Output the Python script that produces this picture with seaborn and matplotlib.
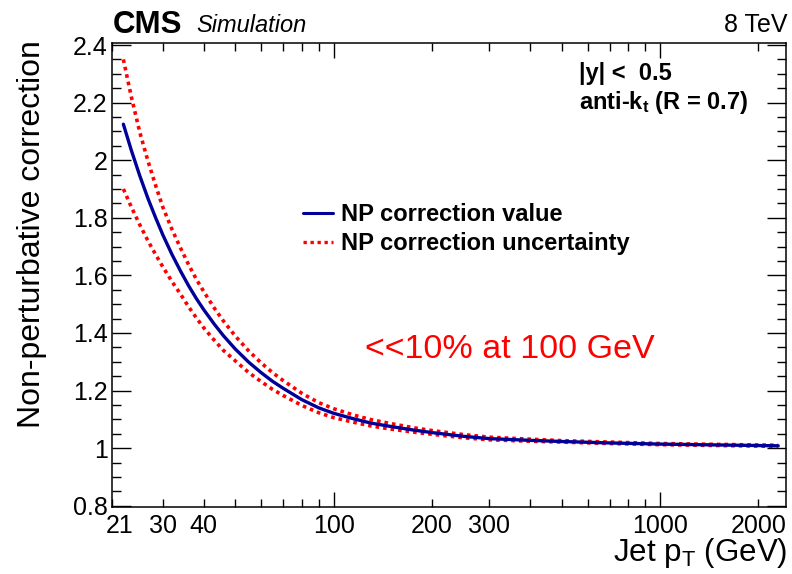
import pandas as pd
import seaborn as sns
import matplotlib.pyplot as plt
from matplotlib.ticker import FixedLocator, FuncFormatter, MultipleLocator
from matplotlib.transforms import ScaledTranslation
from matplotlib.lines import Line2D


# values
pt = [22.7, 24, 25.5, 27, 28.5, 30, 32, 34, 36, 38, 40, 43, 46, 50, 55, 60, 65, 70, 80, 90, 100,
      115, 130, 150, 175, 200, 250, 300, 400, 500, 700, 1000, 1500, 2300]
np_value = [2.125, 2.035, 1.945, 1.867, 1.80, 1.74, 1.672, 1.614, 1.563, 1.519, 1.481, 1.432, 1.39,
            1.344, 1.298, 1.262, 1.232, 1.208, 1.168, 1.14, 1.121,
            1.102, 1.087, 1.075, 1.063, 1.054, 1.041, 1.033, 1.027, 1.023, 1.018, 1.014, 1.011, 1.008]
np_up = [2.35, 2.221, 2.096, 1.997, 1.912, 1.836, 1.759, 1.694, 1.636, 1.586, 1.544, 1.488, 1.441,
         1.389, 1.337, 1.296, 1.262, 1.235, 1.19, 1.158, 1.137,
         1.115, 1.099, 1.085, 1.071, 1.061, 1.047, 1.038, 1.031, 1.026, 1.021, 1.016, 1.013, 1.010]
np_down = [1.90, 1.838, 1.775, 1.72, 1.672, 1.629, 1.578, 1.534, 1.49, 1.452, 1.418, 1.376, 1.339,
           1.303, 1.262, 1.231, 1.204, 1.183, 1.148, 1.123, 1.106,
           1.09, 1.077, 1.066, 1.056, 1.048, 1.036, 1.029, 1.024, 1.021, 1.016, 1.012, 1.009, 1.006]

x_labeled = [21, 30, 40, 200, 300, 2000]
x_minor = [21, 30, 40, 50, 60, 70, 80, 90, 200, 300, 400, 500, 600, 700, 800, 900, 2000]
x_major = [100, 1000]

df = pd.DataFrame({'pt': pt, 'value': np_value, 'up': np_up, 'down': np_down})

sns.set_style('ticks')
plt.rcParams['font.family'] = ['Liberation Sans', 'DejaVu Sans']
plt.rcParams['text.color'] = 'black'
plt.rcParams['axes.labelcolor'] = 'black'
plt.rcParams['mathtext.fontset'] = 'custom'
plt.rcParams['mathtext.rm'] = 'Liberation Sans'
plt.rcParams['mathtext.bf'] = 'Liberation Sans:bold'
plt.rcParams['mathtext.it'] = 'Liberation Sans:italic'

fig = plt.figure(figsize=(7.92, 5.74), dpi=100)
ax = fig.add_axes([112 / 792, 67 / 574, 674 / 792, 464 / 574])

blue = '#000099'
red = '#ff0000'
dots = (0, (1.0, 1.1))

sns.lineplot(data=df, x='pt', y='up', color=red, lw=2.6, linestyle=dots, ax=ax)
sns.lineplot(data=df, x='pt', y='down', color=red, lw=2.6, linestyle=dots, ax=ax)
sns.lineplot(data=df, x='pt', y='value', color=blue, lw=2.4, ax=ax)

ax.set_xscale('log')
ax.set_xlim(20.95, 2430)
ax.set_ylim(0.7955, 2.407)
ax.set_xlabel('')
ax.set_ylabel('')

# ROOT-like ticks
ax.xaxis.set_major_locator(FixedLocator(x_major))
ax.xaxis.set_major_formatter(FuncFormatter(lambda v, p: '%g' % v))
ax.xaxis.set_minor_locator(FixedLocator(x_minor))
ax.xaxis.set_minor_formatter(FuncFormatter(lambda v, p: '%g' % v if round(v) in x_labeled else ''))
ax.yaxis.set_major_locator(MultipleLocator(0.2))
ax.yaxis.set_minor_locator(MultipleLocator(0.05))
ax.yaxis.set_major_formatter(FuncFormatter(lambda v, p: '%g' % round(v, 2)))

ax.tick_params(which='both', direction='in', top=True, right=True, width=1, color='black',
               labelsize=18, labelcolor='black')
ax.tick_params(axis='x', which='major', length=10.5, pad=5)
ax.tick_params(axis='x', which='minor', length=5.5, pad=5)
ax.tick_params(axis='y', which='major', length=13.5, pad=3)
ax.tick_params(axis='y', which='minor', length=6.5)
for s in ax.spines.values():
    s.set_linewidth(1.1)
    s.set_color('black')

# the "21" label sits a little right of the frame edge in the original
lab21 = ax.xaxis.get_minor_ticks()[0].label1
lab21.set_transform(lab21.get_transform() + ScaledTranslation(0.07, 0, fig.dpi_scale_trans))

# legend
handles = [Line2D([], [], color=blue, lw=2.2),
           Line2D([], [], color=red, lw=2.4, linestyle=dots)]
ax.legend(handles, ['NP correction value', 'NP correction uncertainty'],
          loc='upper left', bbox_to_anchor=(303 / 792, 1 - 203 / 574), bbox_transform=fig.transFigure,
          frameon=False, borderpad=0, borderaxespad=0, handlelength=1.25, handletextpad=0.35,
          labelspacing=0.25, prop={'weight': 'bold', 'size': 17})

# texts
fig.text(113 / 792, 1 - 33 / 574, 'CMS', fontsize=22.5, fontweight='bold', va='baseline')
fig.text(196 / 792, 1 - 32 / 574, 'Simulation', fontsize=17, style='italic', va='baseline')
fig.text(787 / 792, 1 - 32 / 574, '8 TeV', fontsize=18, ha='right', va='baseline')
fig.text(579 / 792, 1 - 80 / 574, '|y| <  0.5', fontsize=17, fontweight='bold', va='baseline')
fig.text(579 / 792, 1 - 109 / 574, r'anti-k$_\mathbf{t}$ (R = 0.7)', fontsize=17,
         fontweight='bold', va='baseline')
fig.text(365 / 792, 1 - 350 / 574, '<<10% at 100 GeV', fontsize=24.5, color=red, va='center')

fig.text(32 / 792, 1 - 40 / 574, 'Non-perturbative correction', fontsize=23, rotation=90,
         ha='center', va='top')
fig.text(787 / 792, 1 - 561 / 574, r'Jet p$_\mathrm{T}$ (GeV)', fontsize=22.5, ha='right',
         va='baseline')

fig.savefig('out.png', dpi=100)
